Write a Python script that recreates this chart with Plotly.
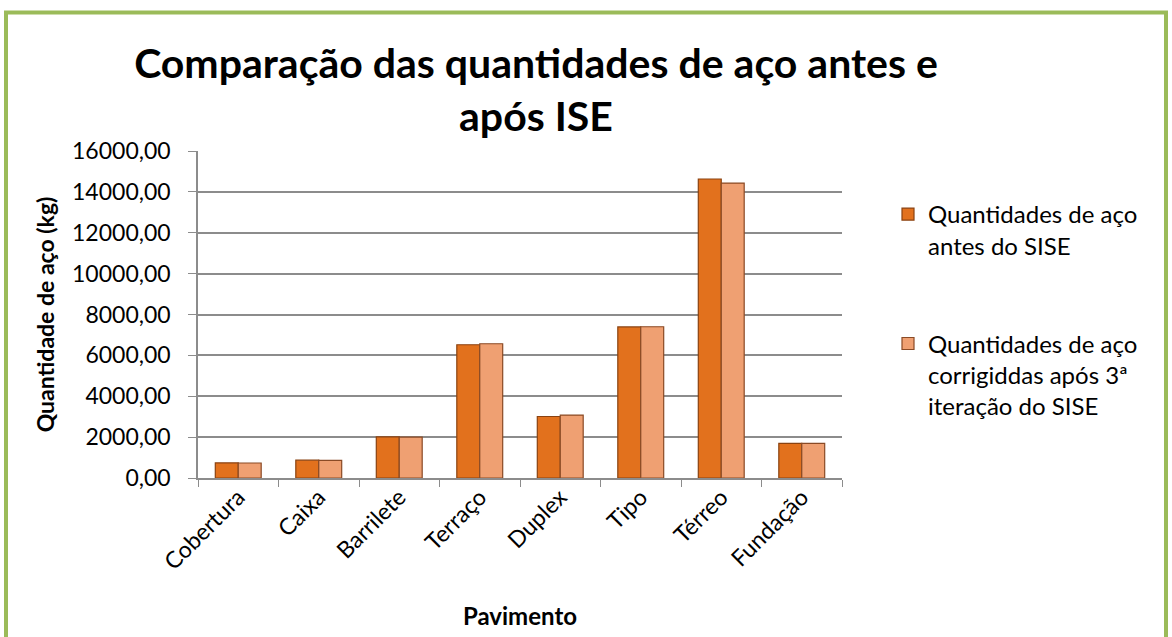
import plotly.graph_objects as go

categories = ["Cobertura", "Caixa", "Barrilete", "Terraço", "Duplex", "Tipo", "Térreo", "Fundação"]
antes = [740, 870, 2010, 6520, 3010, 7390, 14630, 1690]
depois = [735, 865, 2000, 6570, 3080, 7400, 14430, 1690]
name_antes = "Quantidades de aço<br>antes do SISE"
name_depois = "Quantidades de aço<br>corrigiddas após 3ª<br>iteração do SISE"
title_line1 = "Comparação das quantidades de aço antes e"
title_line2 = "após ISE"
y_ticks = [0, 2000, 4000, 6000, 8000, 10000, 12000, 14000, 16000]

FONT = "Lato"
W, H = 1172, 637
L, T = 198, 151
pw, ph = 644, 327
R, B = W - L - pw, H - T - ph


def px(x):
    return (x - L) / pw


def py(y):
    return (H - B - y) / ph


fig = go.Figure()
fig.add_trace(go.Bar(
    x=categories, y=antes, name=name_antes, legendgroup="a",
    marker=dict(color="#E2711D", line=dict(color="#8A4210", width=1.2)),
))
fig.add_trace(go.Bar(
    x=categories, y=depois, name=name_depois, legendgroup="b",
    marker=dict(color="#EFA072", line=dict(color="#8A4A25", width=1.2)),
))

fig.update_layout(
    width=W, height=H,
    margin=dict(l=L, r=R, t=T, b=B, autoexpand=False),
    paper_bgcolor="white", plot_bgcolor="white",
    separators=",.",
    barmode="group", bargap=0.43, bargroupgap=0.0,
    font=dict(family=FONT, size=24, color="black"),
    title=dict(
        text="<b>" + title_line1 + "<br>" + title_line2 + "</b>",
        x=536 / W, xanchor="center", xref="container",
        y=1 - 78 / H, yanchor="middle", yref="container",
        font=dict(family=FONT, size=41, color="black"),
    ),
    legend=dict(
        x=px(888), y=py(192), xanchor="left", yanchor="top",
        font=dict(family=FONT, size=24, color="black"),
        tracegroupgap=64, itemwidth=30, bgcolor="rgba(0,0,0,0)",
        valign="top",
    ),
    showlegend=True,
    shapes=[dict(
        type="rect", xref="paper", yref="paper",
        x0=px(6), x1=px(1166), y0=py(720), y1=py(12.5),
        line=dict(color="#9BBB59", width=4), fillcolor="rgba(0,0,0,0)", layer="below",
    )],
)

fig.update_yaxes(
    range=[0, 16000], tickvals=y_ticks, tickformat=".2f",
    showgrid=True, gridcolor="#8C8C8C", gridwidth=1.5,
    showline=True, linecolor="#8C8C8C", linewidth=1.5,
    ticks="outside", ticklen=8, tickcolor="#8C8C8C",
    ticklabelstandoff=13,
    tickfont=dict(family=FONT, size=23),
    title=dict(text="<b>Quantidade de aço (kg)</b>", font=dict(family=FONT, size=23), standoff=11),
    zeroline=False, automargin=False,
)
fig.update_xaxes(
    showline=True, linecolor="#8C8C8C", linewidth=1.5,
    ticks="outside", ticklen=7, tickcolor="#8C8C8C", tickson="boundaries",
    tickangle=-45, tickfont=dict(family=FONT, size=23),
    ticklabelstandoff=-5,
    title=dict(text="<b>Pavimento</b>", font=dict(family=FONT, size=24), standoff=34),
    automargin=False,
)

fig.write_html("out.html", config={"displayModeBar": False},
               post_script="document.body.style.margin='0';")
